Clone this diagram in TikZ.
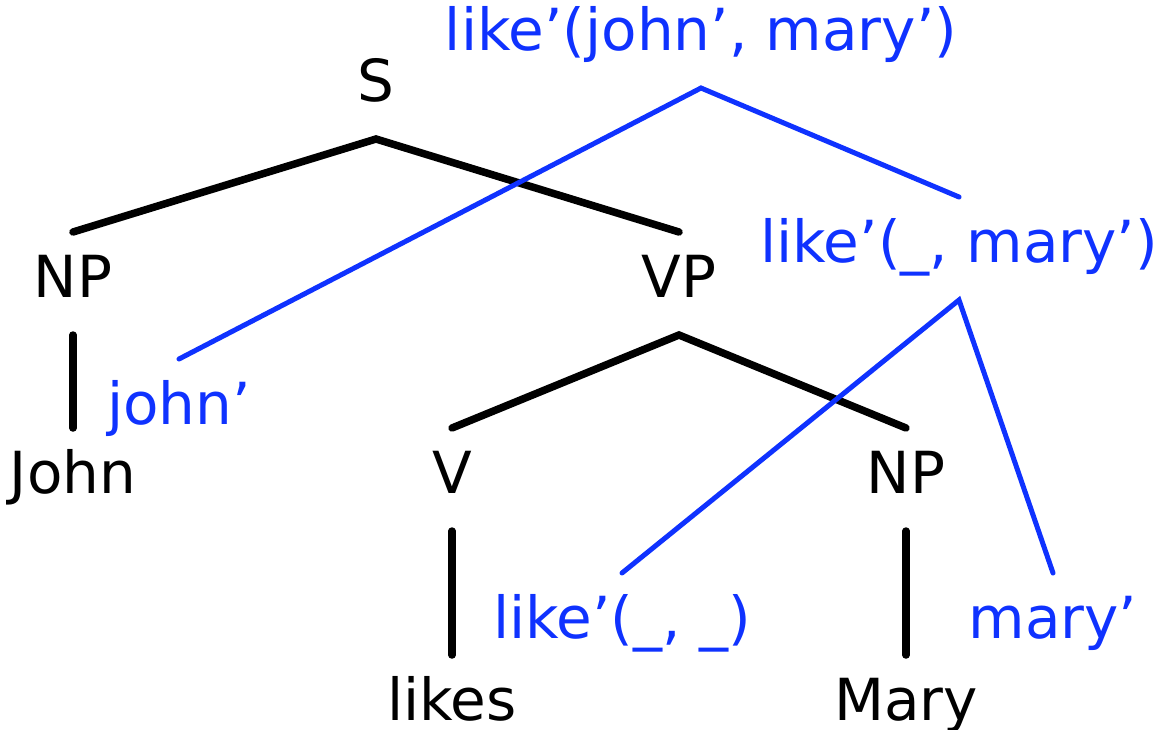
\documentclass[tikz,border=0pt]{standalone}
\usepackage{fontspec}
\setmainfont{DejaVu Sans}
\definecolor{semblue}{RGB}{15,50,255}
\tikzset{
  cat/.style={anchor=base, inner sep=0pt, outer ysep=22pt, outer xsep=0pt,
    text height=43pt, text depth=16pt, font=\fontsize{58}{70}\selectfont},
  semcat/.style={cat, text=semblue},
  synline/.style={line width=7.5pt, line cap=round},
  semline/.style={draw=semblue, line width=5pt, line cap=round}
}
\begin{document}
\begin{tikzpicture}[x=1pt,y=-1pt]
	\useasboundingbox (0,0) rectangle (1158,729);
	
	%syntax tree
	\node[cat] (s) at (376,101) {S};
	\node[cat] (np1) at (73,297) {NP};
	\node[cat] (vp) at (679,297) {VP};
	\node[cat] (john) at (73,493) {John};
	\node[cat] (v) at (452,493) {V};
	\node[cat] (np2) at (906,493) {NP};
	\node[cat] (likes) at (452,720) {likes};
	\node[cat] (mary) at (906,720) {Mary};
	
	%semantics
	\node[semcat] (sem-s) at (701,50) {like’(john’, mary’)};
	\node[semcat] (sem-vp) at (959,262) {like’(\_, mary’)};
	\node[semcat] (sem-john) at (179,424) {john’};
	\node[semcat] (sem-v) at (622,638) {like’(\_, \_)};
	\node[semcat] (sem-mary) at (1053,638) {mary’};
	
	\draw[synline] (np1.north) -- (s.south) -- (vp.north);
	\draw[synline] (np1.south) -- (john.north);
	\draw[synline] (v.north) -- (vp.south) -- (np2.north);
	\draw[synline] (v.south) -- (likes.north);
	\draw[synline] (np2.south) -- (mary.north);
	
	\draw[semline] (sem-john.north) -- (sem-s.south) -- (sem-vp.north);
	\draw[semline] (sem-v.north) -- (sem-vp.south) -- (sem-mary.north);
\end{tikzpicture}
\end{document}
